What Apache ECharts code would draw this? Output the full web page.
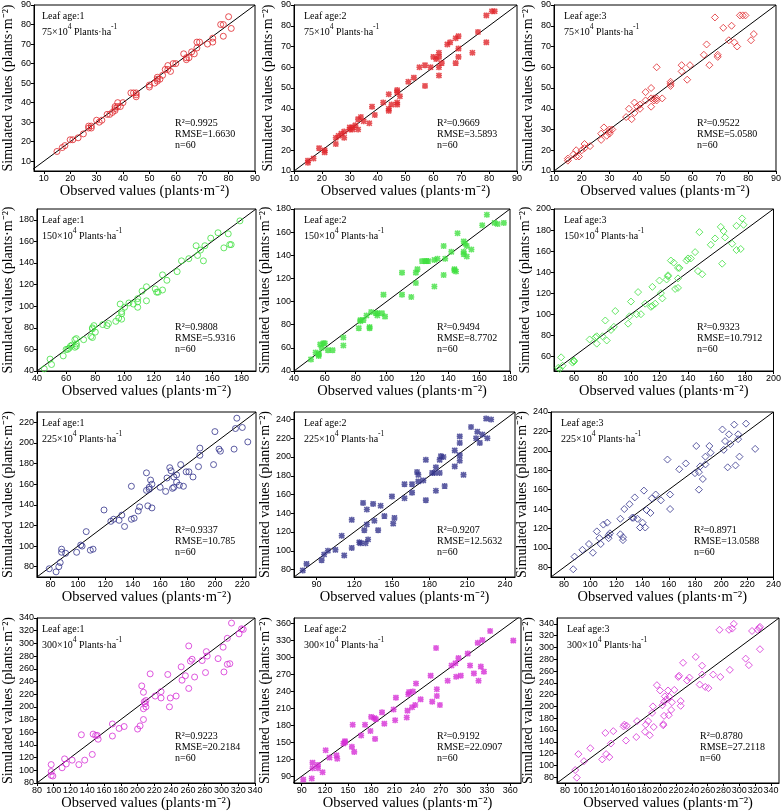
<!DOCTYPE html>
<html><head><meta charset="utf-8">
<script src="https://cdn.jsdelivr.net/npm/echarts@6/dist/echarts.min.js"></script>
<style>html,body{margin:0;padding:0;background:#fff}#c{width:784px;height:812px}</style>
</head><body><div id="c"></div>
<script>
// ---------------- DATA ----------------
const leafAges = ['Leaf age:1', 'Leaf age:2', 'Leaf age:3'];
const densityValues = ['75', '150', '225', '300'];
const r2Values = ['0.9925','0.9669','0.9522','0.9808','0.9494','0.9323','0.9337','0.9207','0.8971','0.9223','0.9192','0.8780'];
const rmseValues = ['1.6630','3.5893','5.0580','5.9316','8.7702','10.7912','10.785','12.5632','13.0588','20.2184','22.0907','27.2118'];
const nValues = [60,60,60,60,60,60,60,60,60,60,60,60];

// [observed, simulated]
const d75_L1 = [[15,15],[17,17],[18,18],[21,21],[23,22],[25,24],[27,27],[27,28],[28,28],[28,27],[30,31],[31,30],[32,31],[34,34],[35,34],[37,36],[37,37],[37,38],[38,38],[38,40],[39,38],[40,40],[43,45],[45,45],[45,43],[45,44],[50,48],[50,49],[52,50],[53,51],[53,53],[54,52],[55,54],[56,57],[57,59],[57,57],[58,56],[60,60],[63,65],[64,62],[64,63],[65,63],[67,65],[68,68],[68,71],[69,71],[72,70],[74,73],[74,71],[77,80],[78,80],[78,74],[80,84],[81,78],[44,45],[36,35],[20,21],[53,52],[66,66],[59,60]];
const d75_L2 = [[15,14],[15,15],[17,16],[19,21],[21,20],[21,19],[25,26],[25,23],[27,28],[28,29],[28,26],[30,31],[31,30],[31,31],[32,32],[33,35],[33,30],[34,36],[35,34],[37,33],[38,41],[39,37],[42,43],[44,47],[44,40],[44,39],[45,42],[47,49],[47,48],[47,43],[47,42],[48,46],[51,53],[53,55],[55,60],[57,61],[57,51],[59,60],[60,65],[61,64],[62,65],[62,67],[62,60],[62,56],[63,62],[65,71],[66,72],[68,74],[68,62],[69,75],[69,69],[69,65],[74,67],[76,77],[79,85],[79,72],[81,87],[82,87],[30,30],[26,27]];
const d75_L3 = [[15,15],[15,16],[17,18],[18,20],[18,17],[19,17],[21,21],[21,23],[23,22],[27,25],[27,28],[28,31],[29,27],[30,28],[30,30],[31,30],[36,36],[37,40],[38,35],[39,38],[39,43],[41,42],[41,40],[43,44],[43,48],[45,50],[45,45],[45,41],[46,44],[47,60],[47,45],[47,44],[49,45],[52,53],[52,52],[52,51],[56,61],[56,58],[58,54],[59,61],[64,66],[65,71],[66,61],[68,84],[69,66],[69,65],[71,79],[73,73],[74,80],[75,72],[76,70],[77,85],[78,85],[79,85],[81,73],[82,76],[46,45],[40,41],[30,29],[20,20]];
const d150_L1 = [[45,42],[49,51],[50,46],[58,54],[60,60],[61,60],[62,61],[63,63],[64,64],[66,62],[66,69],[67,70],[67,63],[67,65],[72,69],[77,72],[78,71],[78,79],[79,82],[80,76],[85,83],[88,82],[89,84],[94,86],[96,89],[97,102],[98,88],[98,93],[98,95],[100,99],[103,103],[106,102],[109,99],[109,104],[109,107],[112,114],[115,118],[115,105],[121,116],[122,113],[123,113],[126,129],[126,115],[129,124],[136,132],[139,142],[144,144],[149,156],[150,147],[152,152],[154,142],[155,156],[159,163],[164,168],[168,154],[171,167],[172,157],[173,157],[179,179],[78,80]];
const d150_L2 = [[51,50],[54,56],[56,53],[56,54],[57,63],[58,60],[59,64],[60,64],[62,58],[65,58],[72,69],[72,62],[82,77],[83,84],[85,84],[87,88],[89,77],[89,78],[90,91],[94,90],[94,88],[97,90],[98,106],[99,87],[110,125],[110,106],[116,104],[119,116],[119,125],[120,128],[123,135],[125,135],[127,135],[131,136],[131,113],[133,137],[137,148],[137,123],[138,137],[142,143],[144,127],[144,128],[145,126],[146,159],[150,152],[150,141],[150,143],[151,150],[152,148],[152,139],[155,145],[162,166],[165,175],[170,168],[172,167],[176,168],[56,55],[93,90],[83,83],[126,135]];
const d150_L3 = [[49,49],[50,48],[51,59],[52,51],[59,54],[60,56],[60,55],[71,76],[75,78],[76,72],[76,79],[80,79],[82,94],[83,75],[86,85],[88,88],[89,103],[98,91],[99,98],[100,112],[104,100],[105,121],[107,100],[110,110],[114,107],[115,108],[115,126],[117,110],[120,132],[121,120],[122,115],[125,133],[126,137],[126,136],[128,151],[130,149],[131,124],[133,125],[133,134],[133,144],[134,144],[139,151],[140,153],[142,153],[145,159],[147,141],[148,178],[150,138],[156,166],[159,172],[163,183],[164,148],[165,179],[166,173],[171,167],[174,184],[174,161],[177,162],[178,191],[179,185]];
const d225_L1 = [[79,78],[84,75],[86,80],[87,84],[88,97],[88,94],[91,93],[99,94],[102,101],[103,100],[106,114],[109,96],[111,97],[119,135],[124,124],[126,126],[130,125],[132,130],[134,119],[139,158],[139,126],[141,127],[144,134],[145,138],[150,171],[150,154],[151,139],[152,157],[153,164],[154,160],[154,137],[160,157],[164,153],[165,166],[167,176],[168,173],[169,156],[170,157],[170,167],[172,169],[172,162],[174,159],[175,179],[177,158],[179,172],[181,172],[184,167],[188,177],[189,195],[189,188],[199,179],[200,211],[203,194],[204,192],[214,194],[215,214],[216,224],[220,215],[224,201],[152,155]];
const d225_L2 = [[79,79],[82,86],[94,90],[96,96],[99,100],[105,101],[110,116],[112,95],[118,133],[118,103],[124,109],[125,108],[127,151],[128,122],[129,108],[130,144],[130,128],[131,112],[135,150],[136,132],[139,122],[141,148],[144,137],[150,158],[151,129],[152,135],[160,171],[160,156],[166,171],[166,162],[170,184],[171,181],[171,174],[175,175],[177,197],[177,154],[182,183],[184,183],[185,189],[185,164],[188,183],[188,197],[189,201],[191,200],[192,169],[200,207],[200,190],[204,222],[204,215],[204,202],[204,196],[207,181],[213,232],[217,220],[218,227],[220,215],[222,224],[225,241],[226,220],[229,240]];
const d225_L3 = [[87,78],[88,91],[94,98],[99,104],[102,95],[105,117],[107,110],[108,104],[110,124],[113,126],[114,110],[114,113],[115,115],[123,130],[123,114],[125,108],[125,111],[126,140],[130,145],[132,131],[133,131],[134,152],[136,130],[138,121],[140,126],[141,159],[142,121],[143,139],[146,136],[147,151],[150,155],[154,149],[159,191],[161,155],[161,140],[168,181],[173,187],[180,177],[181,205],[183,178],[183,160],[184,184],[186,171],[188,186],[188,194],[191,205],[192,198],[201,222],[202,201],[203,210],[205,183],[206,217],[207,207],[210,227],[211,185],[213,217],[213,212],[214,194],[219,228],[226,202]];
const d300_L1 = [[97,109],[97,98],[97,92],[99,91],[110,104],[113,118],[115,110],[122,116],[130,109],[133,156],[137,116],[146,125],[147,157],[150,155],[152,155],[153,149],[170,173],[170,154],[178,166],[184,169],[200,165],[203,170],[205,233],[207,223],[207,180],[208,208],[207,197],[210,200],[210,210],[215,252],[221,217],[228,224],[228,214],[236,251],[239,214],[238,200],[246,217],[252,263],[253,242],[257,249],[261,229],[261,296],[263,272],[265,275],[268,247],[277,273],[281,254],[282,287],[283,280],[296,276],[302,294],[303,255],[307,308],[307,267],[310,268],[312,332],[321,315],[324,323],[326,322],[209,205]];
const d300_L2 = [[92,84],[103,86],[104,104],[104,114],[111,110],[111,104],[117,97],[121,136],[126,123],[135,127],[136,121],[144,148],[146,152],[146,150],[155,142],[156,181],[158,133],[167,162],[172,181],[179,170],[180,195],[184,193],[185,156],[186,191],[194,203],[197,183],[209,208],[211,189],[212,229],[226,194],[227,206],[228,235],[229,239],[233,212],[234,240],[237,216],[238,254],[244,226],[257,268],[259,222],[264,317],[265,244],[265,232],[269,216],[279,259],[284,286],[289,290],[290,266],[293,299],[296,268],[305,307],[308,286],[313,272],[318,326],[319,259],[322,284],[324,331],[326,275],[334,347],[364,330]];
const d300_L3 = [[93,92],[95,79],[97,119],[104,107],[112,129],[127,110],[131,155],[132,119],[136,114],[138,137],[141,158],[154,166],[155,169],[157,142],[158,167],[170,148],[171,175],[181,157],[182,169],[185,175],[187,151],[190,189],[191,200],[192,165],[196,236],[200,227],[203,202],[204,170],[204,168],[205,208],[205,184],[206,217],[208,212],[210,227],[211,185],[212,216],[214,194],[215,207],[218,228],[223,250],[224,252],[226,201],[226,209],[229,274],[234,244],[237,249],[245,284],[250,237],[253,254],[253,269],[257,233],[261,231],[267,254],[275,330],[276,250],[287,330],[288,262],[291,332],[293,340],[308,281],[312,270],[316,328],[323,330],[325,333],[326,335],[326,297]];

// axis ranges and tick labels per panel
const xRanges = [[6.3,90],[10,90],[10,90],[40,190],[40,180],[46,200],[70,230],[72,248],[70,240],[80,340],[80,374],[70,350]];
const yRanges = [[5,90],[10,90],[10,90],[40,190],[40,180],[46,200],[70,230],[72,248],[70,240],[80,340],[78,370],[70,350]];
const xTickLabels = [
  [10,20,30,40,50,60,70,80,90],[10,20,30,40,50,60,70,80,90],[10,20,30,40,50,60,70,80,90],
  [40,60,80,100,120,140,160,180],[40,60,80,100,120,140,160,180],[60,80,100,120,140,160,180,200],
  [80,100,120,140,160,180,200,220],[90,120,150,180,210,240],[80,100,120,140,160,180,200,220,240],
  [80,100,120,140,160,180,200,220,240,260,280,300,320,340],[90,120,150,180,210,240,270,300,330,360],[80,100,120,140,160,180,200,220,240,260,280,300,320,340]
];
const yTickLabels = [
  [10,20,30,40,50,60,70,80,90],[10,20,30,40,50,60,70,80,90],[10,20,30,40,50,60,70,80,90],
  [40,60,80,100,120,140,160,180],[40,60,80,100,120,140,160,180],[60,80,100,120,140,160,180,200],
  [80,100,120,140,160,180,200,220],[80,100,120,140,160,180,200,220,240],[80,100,120,140,160,180,200,220,240],
  [80,100,120,140,160,180,200,220,240,260,280,300,320,340],[90,120,150,180,210,240,270,300,330,360],[80,100,120,140,160,180,200,220,240,260,280,300,320,340]
];
const panelData = [d75_L1,d75_L2,d75_L3,d150_L1,d150_L2,d150_L3,d225_L1,d225_L2,d225_L3,d300_L1,d300_L2,d300_L3];

// ---------------- LAYOUT / STYLE ----------------
const rowColors = ['#e0262b', '#40e040', '#34348c', '#d62ed6'];
const rowBox = [[5,171],[209,371],[412,577],[618,783]];
const colBox = [
  [[32,255],[294,517],[554,777]],
  [[32,256],[294,510],[554,777]],
  [[32,256],[294,515],[551,778]],
  [[32,255],[294,521],[557,779]]
];
const asterisk = 'path://M0,0L10,10M10,0L0,10M5,-1L5,11M-1,5L11,5';
const SERIF = '"Liberation Serif","Times New Roman",serif';
const SANS = '"Liberation Sans",Arial,sans-serif';

const grid = [], xAxis = [], yAxis = [], series = [], graphic = [];
for (let i = 0; i < 12; i++) {
  const r = Math.floor(i / 3), c = i % 3;
  const [l, rt] = colBox[r][c];
  const [t, b] = rowBox[r];
  const col = rowColors[r];
  grid.push({left: l, top: t, width: rt - l, height: b - t, show: true, borderColor: '#000', borderWidth: 1, backgroundColor: 'transparent'});
  const common = {
    gridIndex: i, type: 'value', nameLocation: 'middle',
    nameTextStyle: {fontFamily: SERIF, fontSize: 14, color: '#000'},
    axisLine: {show: true, onZero: false, lineStyle: {color: '#000', width: 1}},
    splitLine: {show: false}
  };
  xAxis.push(Object.assign({}, common, {
    min: xRanges[i][0], max: xRanges[i][1],
    name: 'Observed values (plants·m⁻²)', nameGap: 12,
    nameTextStyle: {fontFamily: SERIF, fontSize: 14.5, color: '#000'},
    axisTick: {show: true, length: 3, customValues: xTickLabels[i], lineStyle: {color: '#000'}},
    axisLabel: {customValues: xTickLabels[i], fontSize: 9, fontFamily: SANS, color: '#000', margin: 3}
  }));
  yAxis.push(Object.assign({}, common, {
    min: yRanges[i][0], max: yRanges[i][1],
    name: 'Simulated values (plants·m⁻²)', nameGap: 19,
    axisTick: {show: true, length: 3, customValues: yTickLabels[i], lineStyle: {color: '#000'}},
    axisLabel: {customValues: yTickLabels[i], fontSize: 9, fontFamily: SANS, color: '#000', margin: 3}
  }));
  const lo = Math.min(xRanges[i][0], yRanges[i][0]);
  const hi = Math.max(xRanges[i][1], yRanges[i][1]);
  series.push({
    type: 'line', xAxisIndex: i, yAxisIndex: i, data: [[lo, lo], [hi, hi]],
    symbol: 'none', clip: true, silent: true, animation: false,
    lineStyle: {color: '#000', width: 1}, z: 1
  });
  let sym, size, style;
  if (c === 0) { sym = 'circle'; size = 6; style = {color: 'rgba(0,0,0,0)', borderColor: col, borderWidth: 1}; }
  else if (c === 1) { sym = asterisk; size = 6; style = {color: 'rgba(0,0,0,0)', borderColor: col, borderWidth: 1.6}; }
  else { sym = 'diamond'; size = 7; style = {color: 'rgba(0,0,0,0)', borderColor: col, borderWidth: 1}; }
  series.push({
    type: 'scatter', xAxisIndex: i, yAxisIndex: i, data: panelData[i],
    symbol: sym, symbolSize: size, itemStyle: style, animation: false, z: 2
  });
  graphic.push({type: 'text', left: l + 10, top: t + 6, z: 10,
    style: {text: leafAges[c], font: '10px ' + SERIF, fill: '#000'}});
  graphic.push({type: 'text', left: l + 10, top: t + 18, z: 10,
    style: {
      text: '{n|' + densityValues[r] + '×10}{s|4}{n| Plants·ha}{s|-1}',
      rich: {
        n: {fontFamily: SERIF, fontSize: 10, fill: '#000', lineHeight: 14, verticalAlign: 'bottom'},
        s: {fontFamily: SERIF, fontSize: 7.5, fill: '#000', lineHeight: 9, verticalAlign: 'top'}
      }
    }});
  graphic.push({type: 'text', left: l + 143, top: t + 113, z: 10,
    style: {text: 'R²=' + r2Values[i] + '\nRMSE=' + rmseValues[i] + '\nn=' + nValues[i], font: '10px ' + SERIF, fill: '#000', lineHeight: 11}});
}

const chart = echarts.init(document.getElementById('c'), null, {renderer: 'canvas'});
chart.setOption({animation: false, backgroundColor: '#fff', grid, xAxis, yAxis, series, graphic});
</script></body></html>
